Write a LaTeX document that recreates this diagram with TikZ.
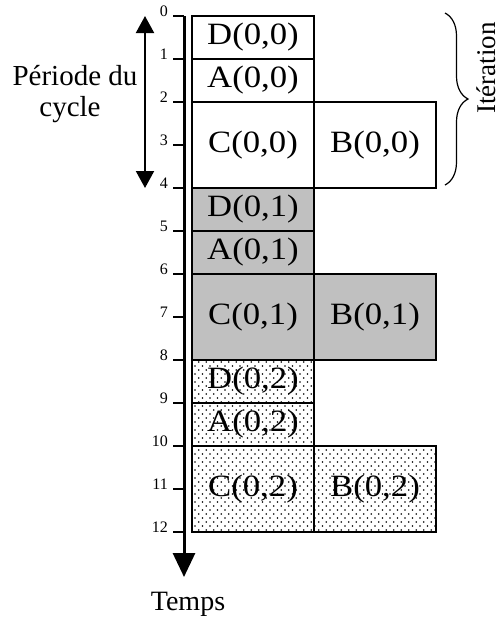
\documentclass[tikz,border=0pt]{standalone}
\usepackage{fontspec}
\setmainfont{Liberation Serif}
\usetikzlibrary{arrows.meta,decorations.pathreplacing,patterns}

% staggered dot fill used for the third period
\pgfdeclarepatternformonly{stagdots}{\pgfpoint{-1pt}{-1pt}}{\pgfpoint{6.5pt}{7pt}}{\pgfpoint{7.5pt}{8pt}}{%
  \pgfpathcircle{\pgfpoint{0pt}{0pt}}{0.8pt}%
  \pgfpathcircle{\pgfpoint{3.75pt}{4pt}}{0.8pt}%
  \pgfusepath{fill}}

\definecolor{periodgray}{HTML}{C0C0C0}

\tikzset{
  task/.style={draw, line width=1.5pt, minimum width=122pt, inner sep=0pt, outer sep=0pt,
    anchor=north west, font=\fontsize{31}{31}\selectfont},
  short/.style={minimum height=43pt},
  long/.style={minimum height=86pt},
  p0/.style={fill=white},
  p1/.style={fill=periodgray},
  p2/.style={pattern=stagdots},
  ticklabel/.style={anchor=base east, inner sep=0pt, font=\fontsize{16}{16}\selectfont},
  axisline/.style={line width=3pt, -{Triangle[length=24pt,width=22pt]}},
  tickline/.style={line width=2pt},
  periodarrow/.style={line width=2pt, {Triangle[length=17pt,width=18pt]}-{Triangle[length=17pt,width=18pt]}},
  bigtext/.style={inner sep=0pt, font=\fontsize{28}{28}\selectfont},
}
\newcommand{\lbl}[1]{\scalebox{1.12}[1]{#1}}

\begin{document}
\begin{tikzpicture}[x=1pt, y=-1pt]
\useasboundingbox (0,0) rectangle (502,622);

% period 0
\node[task, short, p0] (d0) at (192,16)  {\lbl{D(0,0)}};
\node[task, short, p0] (a0) at (192,59)  {\lbl{A(0,0)}};
\node[task, long,  p0] (c0) at (192,102) {\lbl{C(0,0)}};
\node[task, long,  p0] (b0) at (314,102) {\lbl{B(0,0)}};
% period 1
\node[task, short, p1] (d1) at (192,188) {\lbl{D(0,1)}};
\node[task, short, p1] (a1) at (192,231) {\lbl{A(0,1)}};
\node[task, long,  p1] (c1) at (192,274) {\lbl{C(0,1)}};
\node[task, long,  p1] (b1) at (314,274) {\lbl{B(0,1)}};
% period 2
\node[task, short, p2] (d2) at (192,360) {\lbl{D(0,2)}};
\node[task, short, p2] (a2) at (192,403) {\lbl{A(0,2)}};
\node[task, long,  p2] (c2) at (192,446) {\lbl{C(0,2)}};
\node[task, long,  p2] (b2) at (314,446) {\lbl{B(0,2)}};

% time axis with graduations
\coordinate (axtop) at (184,16);
\coordinate (axend) at (184,577);
\draw[axisline] (axtop) -- (axend);
\foreach \k in {0,...,12}{
  \draw[tickline] (173,{16+43*\k}) -- (184,{16+43*\k});
  \node[ticklabel] (t\k) at (168,{16+43*\k}) {\k};
}
\node[bigtext, anchor=base] (temps) at (188,610) {Temps};

% cycle period
\coordinate (ptop) at (145,16);
\coordinate (pbot) at (145,188);
\draw[periodarrow] (ptop) -- (pbot);
\node[bigtext, anchor=base, font=\fontsize{29}{29}\selectfont] (per1) at (75,85) {Période du};
\node[bigtext, anchor=base, font=\fontsize{29}{29}\selectfont] (per2) at (70,116) {cycle};

% iteration brace
\coordinate (btop) at (445,13);
\coordinate (bbot) at (445,185);
\draw[line width=1.2pt, decorate, decoration={brace, amplitude=23pt}] (btop) -- (bbot);
\node[bigtext, rotate=90, anchor=base, font=\fontsize{27}{27}\selectfont] (iter) at (495,68) {Itération};
\end{tikzpicture}
\end{document}
